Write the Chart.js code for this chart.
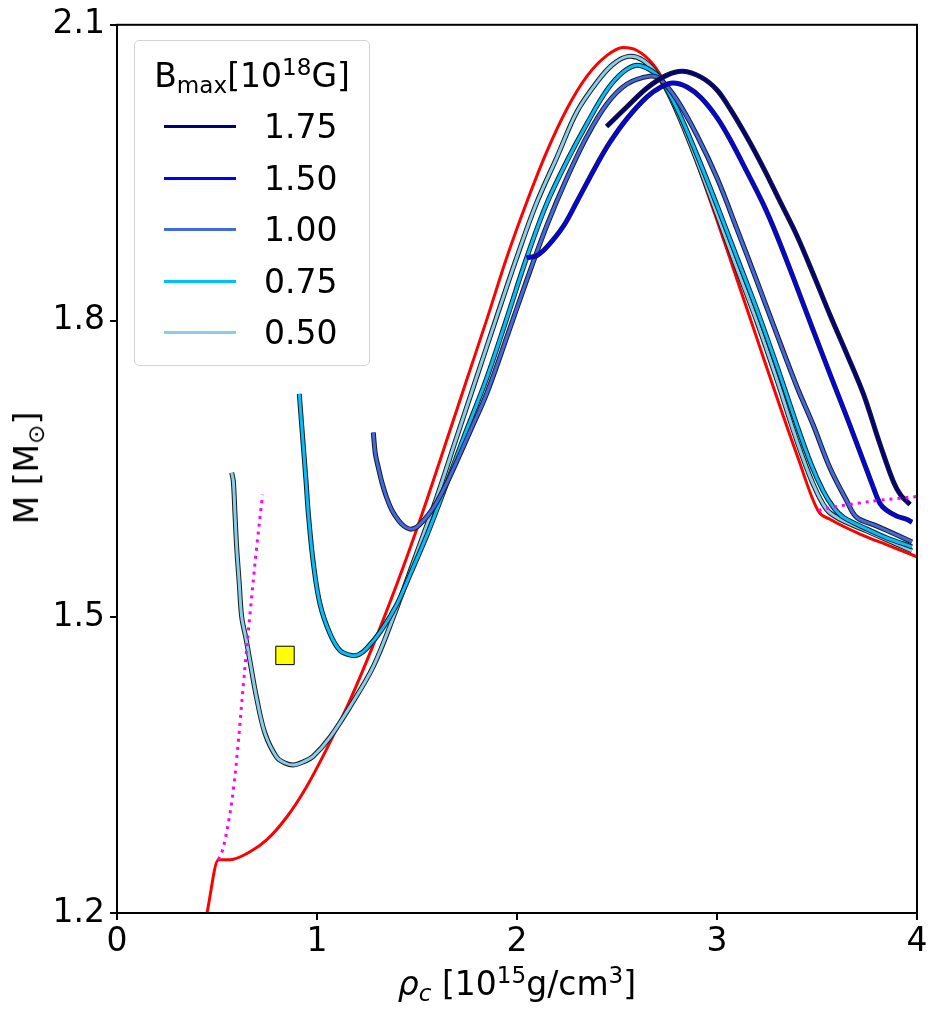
<!DOCTYPE html>
<html>
<head>
<meta charset="utf-8">
<script src="https://cdn.jsdelivr.net/npm/chart.js@4.4.1/dist/chart.umd.min.js"></script>
<style>
body { margin: 0; background: #fff; }
#wrap { position: relative; width: 938px; height: 1015px; font-family: 'DejaVu Sans', sans-serif; color: #000; overflow: hidden; }
canvas { position: absolute; left: 0; top: 0; }
sup { font-size: 0.7em; vertical-align: 0.5em; line-height: 0; }
sub { font-size: 0.7em; vertical-align: -0.25em; line-height: 0; }
.legend { position: absolute; left: 134px; top: 40px; width: 236px; height: 326px; border: 1px solid #d3d3d3; border-radius: 5px; background: rgba(255,255,255,0.8); box-sizing: border-box; }
.legend .title { position: absolute; left: 0; width: 100%; top: 15px; text-align: center; font-size: 33px; line-height: 40px; white-space: nowrap; }
.row { position: absolute; left: 0; width: 100%; height: 40px; }
.row .sw { position: absolute; left: 29px; top: 18px; width: 72px; height: 3px; }
.row .lab { position: absolute; left: 129px; top: 0; font-size: 33px; line-height: 40px; }
.xlabel { position: absolute; left: 117px; width: 800px; top: 964px; text-align: center; font-size: 33px; line-height: 40px; white-space: nowrap; }
.ylabel { position: absolute; left: 27px; top: 468px; font-size: 33px; line-height: 40px; white-space: nowrap; transform: translate(-50%, -50%) rotate(-90deg); }
</style>
</head>
<body>
<div id="wrap">
  <canvas id="massChart" width="938" height="1015"></canvas>
  <div class="legend" id="legend">
    <div class="title">B<sub>max</sub>[10<sup>18</sup>G]</div>
  </div>
  <div class="xlabel"><i>ρ<sub>c</sub></i> [10<sup>15</sup>g/cm<sup>3</sup>]</div>
  <div class="ylabel">M [M<sub>⊙</sub>]</div>
</div>
<script>
// Axis ticks and legend entries
const xTicks = [0, 1, 2, 3, 4];
const yTicks = [1.2, 1.5, 1.8, 2.1];
const fieldLabels = ['1.75', '1.50', '1.00', '0.75', '0.50'];
const fieldColors = ['#000080', '#0000ff', '#4169e1', '#00bfff', '#87ceeb'];

// B = 0 (red)
const rhoB0 = [0.45, 0.507, 0.565, 0.665, 0.748, 0.848, 0.948, 1.048, 1.148, 1.248, 1.348, 1.448, 1.55, 1.65, 1.75, 1.85, 1.95, 2.05, 2.15, 2.25, 2.35, 2.45, 2.53, 2.60, 2.68, 2.75, 2.82, 2.90, 3.00, 3.10, 3.20, 3.30, 3.40, 3.507, 3.565, 3.715, 3.85, 4.00];
const massB0 = [1.200, 1.254, 1.254, 1.262, 1.274, 1.297, 1.328, 1.366, 1.408, 1.455, 1.506, 1.560, 1.619, 1.680, 1.741, 1.802, 1.865, 1.921, 1.972, 2.015, 2.048, 2.069, 2.077, 2.074, 2.060, 2.037, 2.006, 1.960, 1.902, 1.842, 1.782, 1.722, 1.664, 1.607, 1.599, 1.584, 1.573, 1.561];

// Bmax = 0.50
const rho050 = [0.5735, 0.5815, 0.590, 0.5985, 0.611, 0.6235, 0.645, 0.665, 0.698, 0.740, 0.798, 0.840, 0.882, 0.930, 0.982, 1.065, 1.165, 1.282, 1.382, 1.490, 1.595, 1.695, 1.795, 1.895, 1.995, 2.095, 2.200, 2.300, 2.400, 2.480, 2.557, 2.630, 2.715, 2.800, 2.900, 3.000, 3.100, 3.200, 3.300, 3.400, 3.480, 3.548, 3.615, 3.750, 3.850, 3.975];
const mass050 = [1.646, 1.638, 1.604, 1.570, 1.535, 1.500, 1.478, 1.455, 1.418, 1.382, 1.358, 1.352, 1.350, 1.353, 1.359, 1.378, 1.409, 1.450, 1.500, 1.560, 1.619, 1.680, 1.741, 1.802, 1.862, 1.918, 1.966, 2.012, 2.042, 2.060, 2.068, 2.064, 2.046, 2.012, 1.962, 1.908, 1.853, 1.799, 1.740, 1.678, 1.635, 1.609, 1.599, 1.587, 1.578, 1.567];

// Bmax = 0.75
const rho075 = [0.9115, 0.925, 0.945, 0.957, 0.982, 1.015, 1.065, 1.115, 1.173, 1.210, 1.248, 1.320, 1.400, 1.470, 1.550, 1.630, 1.730, 1.845, 1.945, 2.045, 2.145, 2.250, 2.350, 2.450, 2.530, 2.598, 2.660, 2.715, 2.800, 2.900, 3.000, 3.100, 3.200, 3.300, 3.400, 3.470, 3.530, 3.582, 3.632, 3.750, 3.850, 3.975];
const mass075 = [1.726, 1.690, 1.638, 1.604, 1.554, 1.513, 1.483, 1.466, 1.461, 1.462, 1.468, 1.486, 1.513, 1.545, 1.583, 1.625, 1.680, 1.740, 1.800, 1.862, 1.917, 1.962, 2.000, 2.034, 2.052, 2.059, 2.055, 2.046, 2.015, 1.968, 1.917, 1.864, 1.811, 1.754, 1.694, 1.655, 1.628, 1.611, 1.601, 1.589, 1.580, 1.571];

// Bmax = 1.00
const rho100 = [1.2815, 1.292, 1.307, 1.325, 1.348, 1.375, 1.407, 1.435, 1.465, 1.490, 1.515, 1.555, 1.598, 1.650, 1.700, 1.770, 1.848, 1.950, 2.050, 2.150, 2.250, 2.350, 2.450, 2.550, 2.665, 2.715, 2.800, 2.900, 3.000, 3.100, 3.200, 3.300, 3.400, 3.480, 3.565, 3.648, 3.698, 3.800, 3.900, 3.975];
const mass100 = [1.687, 1.665, 1.651, 1.636, 1.621, 1.608, 1.598, 1.592, 1.589, 1.590, 1.594, 1.603, 1.616, 1.636, 1.658, 1.690, 1.726, 1.784, 1.842, 1.897, 1.945, 1.987, 2.020, 2.040, 2.048, 2.045, 2.024, 1.988, 1.945, 1.893, 1.840, 1.786, 1.733, 1.695, 1.651, 1.618, 1.601, 1.592, 1.583, 1.576];

// Bmax = 1.50
const rho150 = [2.048, 2.098, 2.150, 2.232, 2.300, 2.398, 2.465, 2.550, 2.650, 2.720, 2.780, 2.850, 2.920, 3.000, 3.065, 3.150, 3.232, 3.300, 3.398, 3.480, 3.565, 3.650, 3.732, 3.780, 3.815, 3.848, 3.900, 3.948, 3.975];
const mass150 = [1.864, 1.866, 1.875, 1.896, 1.921, 1.958, 1.981, 2.005, 2.027, 2.037, 2.041, 2.037, 2.026, 2.006, 1.984, 1.951, 1.918, 1.886, 1.835, 1.791, 1.746, 1.702, 1.658, 1.632, 1.615, 1.608, 1.602, 1.599, 1.596];

// Bmax = 1.75
const rho175 = [2.448, 2.550, 2.650, 2.750, 2.830, 2.920, 3.000, 3.065, 3.150, 3.232, 3.315, 3.398, 3.480, 3.565, 3.650, 3.732, 3.815, 3.882, 3.920, 3.965];
const mass175 = [1.997, 2.017, 2.036, 2.049, 2.053, 2.047, 2.034, 2.015, 1.986, 1.955, 1.921, 1.887, 1.848, 1.806, 1.766, 1.726, 1.675, 1.637, 1.623, 1.614];

// magenta dotted limits
const rhoLimLow = [0.507, 0.525, 0.540, 0.560, 0.582, 0.605, 0.632, 0.665, 0.698, 0.728];
const massLimLow = [1.254, 1.262, 1.274, 1.295, 1.325, 1.370, 1.432, 1.503, 1.570, 1.624];
const rhoLimHigh = [3.507, 3.600, 3.700, 3.800, 3.900, 4.000];
const massLimHigh = [1.608, 1.612, 1.615, 1.618, 1.620, 1.622];

// yellow square
const markerRho = [0.84];
const markerMass = [1.461];

// Build the HTML legend
const legendBox = document.getElementById('legend');
fieldLabels.forEach(function (label, i) {
    let row = document.createElement('div');
    row.className = 'row';
    row.style.top = (66 + i * 51.6) + 'px';
    row.innerHTML = `<div class="sw" style="background:${fieldColors[i]}"></div><div class="lab">${label}</div>`;
    legendBox.appendChild(row);
});

function pts(xs, ys) {
    return xs.map((x, i) => ({ x: x, y: ys[i] }));
}

// coloured line on top of a slightly wider dark stroke
function outlined(xs, ys, color, order) {
    return [
        { data: pts(xs, ys), borderColor: color, borderWidth: 3, order: order, tension: 0.35 },
        { data: pts(xs, ys), borderColor: '#1c1c1c', borderWidth: 5, order: order + 0.5, tension: 0.35 }
    ];
}

const datasets = [
    { data: pts(rhoB0, massB0), borderColor: '#ff0000', borderWidth: 3, order: 11, cubicInterpolationMode: 'monotone' },
    ...outlined(rho050, mass050, fieldColors[4], 5),
    ...outlined(rho075, mass075, fieldColors[3], 4),
    ...outlined(rho100, mass100, fieldColors[2], 3),
    ...outlined(rho150, mass150, fieldColors[1], 2),
    ...outlined(rho175, mass175, fieldColors[0], 1),
    { data: pts(rhoLimLow, massLimLow), borderColor: '#ff00ff', borderWidth: 3, borderDash: [3, 5], order: 0.3, tension: 0.35 },
    { data: pts(rhoLimHigh, massLimHigh), borderColor: '#ff00ff', borderWidth: 3, borderDash: [3, 5], order: 0.3, tension: 0.35 },
    {
        data: pts(markerRho, markerMass), showLine: false, pointStyle: 'rect', pointRadius: 13,
        backgroundColor: '#ffff00', borderColor: '#000000', borderWidth: 1, order: 0
    }
];

datasets.forEach(function (d) {
    if (d.showLine === undefined) {
        d.showLine = true;
        d.pointRadius = 0;
    }
    d.fill = false;
});

// Frame around the plot area (top and right spines too)
const framePlugin = {
    id: 'frame',
    afterDraw(chart) {
        const a = chart.chartArea;
        const ctx = chart.ctx;
        ctx.save();
        ctx.strokeStyle = '#000';
        ctx.lineWidth = 2;
        ctx.strokeRect(a.left, a.top, a.right - a.left, a.bottom - a.top);
        ctx.restore();
    }
};

const tickFont = { family: 'DejaVu Sans', size: 33 };

new Chart(document.getElementById('massChart'), {
    type: 'scatter',
    data: { datasets: datasets },
    options: {
        responsive: false,
        animation: false,
        devicePixelRatio: 1,
        layout: { padding: { left: 0, top: 23, right: 21, bottom: 0 } },
        plugins: { legend: { display: false }, tooltip: { enabled: false } },
        scales: {
            x: {
                type: 'linear', min: 0, max: 4,
                afterFit: s => { s.height = 102; },
                afterBuildTicks: s => { s.ticks = xTicks.map(v => ({ value: v })); },
                ticks: { font: tickFont, color: '#000', padding: 3, maxRotation: 0, callback: v => String(v) },
                grid: { drawOnChartArea: false, drawTicks: true, tickLength: 7, color: '#000', lineWidth: 2 },
                border: { display: true, color: '#000', width: 2 }
            },
            y: {
                type: 'linear', min: 1.2, max: 2.1,
                afterFit: s => { s.width = 117; },
                afterBuildTicks: s => { s.ticks = yTicks.map(v => ({ value: v })); },
                ticks: { font: tickFont, color: '#000', padding: 5, callback: v => v.toFixed(1) },
                grid: { drawOnChartArea: false, drawTicks: true, tickLength: 7, color: '#000', lineWidth: 2 },
                border: { display: true, color: '#000', width: 2 }
            }
        }
    },
    plugins: [framePlugin]
});
</script>
</body>
</html>
